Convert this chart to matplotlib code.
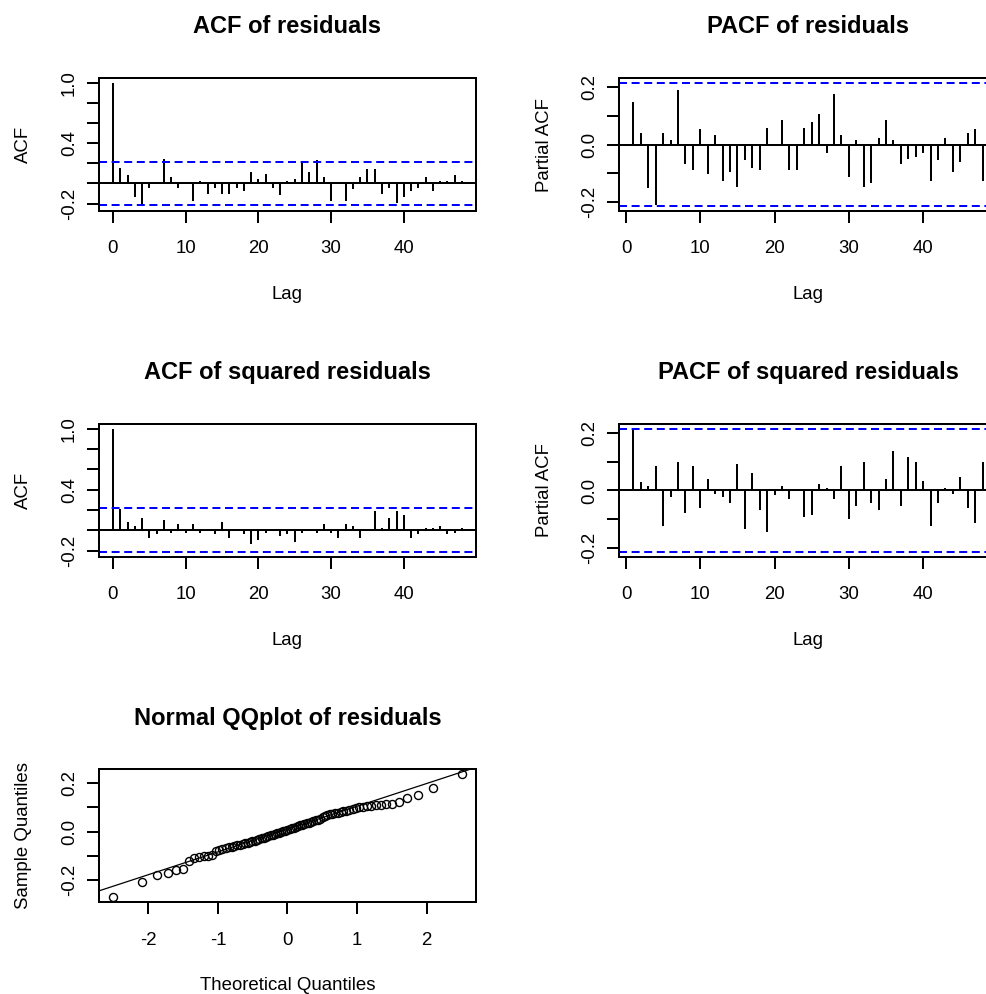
#! /usr/bin/python
# -*- encode: utf-8 -*-

"""Residual diagnostics: ACF / PACF of residuals and squared residuals, plus a normal QQ plot."""

from statistics import NormalDist

import numpy as np
import matplotlib
matplotlib.use('Agg')
import matplotlib.pyplot as plt


# Sample ACF of the residuals, lags 0..48.
acf_resid = [
    1.000, 0.152, 0.080, -0.134, -0.225, -0.044, 0.005, 0.248, 0.060, -0.044,
    -0.004, -0.174, 0.027, -0.100, -0.044, -0.100, -0.100, -0.044, -0.077, 0.117,
    0.047, 0.097, -0.044, -0.117, 0.027, 0.047, 0.211, 0.117, 0.235, 0.067,
    -0.174, 0.004, -0.174, -0.060, 0.067, 0.141, 0.141, -0.100, -0.044, -0.195,
    -0.134, -0.077, -0.044, 0.067, -0.077, 0.027, 0.027, 0.080, 0.027,
]

# Sample PACF of the residuals, lags 1..48.
pacf_resid = [
    0.150, 0.041, -0.152, -0.213, 0.041, 0.015, 0.189, -0.069, -0.088, 0.053,
    -0.102, 0.034, -0.126, -0.095, -0.147, -0.055, -0.081, -0.088, 0.059, 0.003,
    0.086, -0.088, -0.088, 0.059, 0.080, 0.106, -0.029, 0.176, 0.034, -0.114,
    0.015, -0.147, -0.134, 0.021, 0.086, 0.015, -0.069, -0.049, -0.044, -0.029,
    -0.126, -0.055, 0.021, -0.095, -0.062, 0.041, 0.053, -0.126,
]

# Sample ACF of the squared residuals, lags 0..48.
acf_sq = [
    1.000, 0.214, 0.082, 0.042, 0.118, -0.078, -0.039, 0.101, -0.023, 0.065,
    -0.023, 0.065, -0.023, 0.004, -0.039, 0.082, -0.078, 0.004, -0.039, -0.131,
    -0.098, -0.023, 0.004, -0.059, -0.039, -0.111, -0.023, 0.004, -0.023, 0.065,
    -0.023, -0.078, 0.065, 0.042, -0.078, 0.004, 0.190, 0.026, 0.118, 0.190,
    0.150, -0.078, -0.039, 0.026, 0.026, 0.042, -0.039, -0.023, 0.026,
]

# Sample PACF of the squared residuals, lags 1..48.
pacf_sq = [
    0.213, 0.028, 0.015, 0.087, -0.124, -0.022, 0.099, -0.080, 0.087, -0.061,
    0.041, -0.011, -0.022, -0.042, 0.093, -0.133, 0.060, -0.067, -0.145, -0.016,
    0.015, -0.028, 0.002, -0.094, -0.087, 0.021, 0.009, -0.028, 0.087, -0.100,
    -0.054, 0.099, -0.042, -0.067, 0.041, 0.138, -0.054, 0.118, 0.099, 0.034,
    -0.124, -0.042, 0.009, -0.011, 0.048, -0.061, -0.113, 0.099,
]

# Residuals, sorted.
resid = [
    -0.270, -0.206, -0.180, -0.170, -0.158, -0.155, -0.120, -0.108, -0.104, -0.101,
    -0.099, -0.096, -0.078, -0.074, -0.071, -0.068, -0.065, -0.062, -0.059, -0.056,
    -0.054, -0.052, -0.049, -0.046, -0.043, -0.040, -0.037, -0.034, -0.031, -0.028,
    -0.025, -0.022, -0.019, -0.016, -0.013, -0.010, -0.007, -0.004, -0.002, 0.001,
    0.004, 0.007, 0.010, 0.013, 0.016, 0.019, 0.022, 0.025, 0.028, 0.031,
    0.034, 0.037, 0.040, 0.043, 0.046, 0.049, 0.053, 0.058, 0.064, 0.068,
    0.070, 0.072, 0.074, 0.077, 0.080, 0.083, 0.086, 0.090, 0.093, 0.096,
    0.099, 0.101, 0.103, 0.105, 0.107, 0.109, 0.111, 0.113, 0.122, 0.139,
    0.148, 0.178, 0.235,
]

Width, Height = 987, 994
BoxW, BoxH = 377, 133
ColLeft = [99, 619.5]
RowTop = [78, 424, 769.3]

LineW = 1.44
TickFont = 13.4
TitleFont = 17
Blue = '#0000FF'

N = len(resid)
Clim = 1.96 / np.sqrt(N)


def r_range(lo, hi):
    ext = 0.04 * (hi - lo)
    return lo - ext, hi + ext


def make_axes(fig, row, col):
    left, top = ColLeft[col], RowTop[row]
    ax = fig.add_axes([left / Width, 1 - (top + BoxH) / Height, BoxW / Width, BoxH / Height])
    for s in ax.spines.values():
        s.set_linewidth(LineW)
        s.set_color('black')
    ax.tick_params(direction='out', length=8.9, width=LineW, labelsize=TickFont, colors='black')
    ax.tick_params(axis='x', pad=12.3)
    ax.tick_params(axis='y', pad=6.3)
    ax.xaxis.set_label_coords(0.5, -0.564)
    ax.yaxis.set_label_coords(-0.177, 0.5)
    return ax


def set_yticks(ax, ticks, shown):
    ax.set_yticks(ticks)
    ax.set_yticklabels(['{:.1f}'.format(t) if round(t, 1) in shown else '' for t in ticks],
                       rotation=90, va='center')


def plot_corr(ax, lags, vals, title, ylabel):
    lags = np.asarray(lags)
    vals = np.asarray(vals)
    ax.vlines(lags, 0, vals, color='black', lw=LineW)
    ax.axhline(0, color='black', lw=LineW)
    for c in (Clim, -Clim):
        ax.axhline(c, color=Blue, lw=LineW, linestyle=(0, (4, 2.3)))
    ax.set_xlim(*r_range(lags.min(), lags.max()))
    ax.set_ylim(*r_range(min(vals.min(), -Clim), max(vals.max(), Clim)))
    ax.set_xticks([0, 10, 20, 30, 40])
    ax.set_xlabel('Lag', fontsize=TickFont)
    ax.set_ylabel(ylabel, fontsize=TickFont)
    ax.set_title(title, fontsize=TitleFont, fontweight='bold', pad=32.2)


def main():
    plt.rcParams['font.family'] = ['Liberation Sans', 'DejaVu Sans']
    plt.rcParams['axes.unicode_minus'] = False

    fig = plt.figure(figsize=(Width / 100, Height / 100), dpi=100)

    ax = make_axes(fig, 0, 0)
    plot_corr(ax, range(len(acf_resid)), acf_resid, 'ACF of residuals', 'ACF')
    set_yticks(ax, [-0.2, 0.0, 0.2, 0.4, 0.6, 0.8, 1.0], (-0.2, 0.4, 1.0))

    ax = make_axes(fig, 0, 1)
    plot_corr(ax, range(1, len(pacf_resid) + 1), pacf_resid, 'PACF of residuals', 'Partial ACF')
    set_yticks(ax, [-0.2, -0.1, 0.0, 0.1, 0.2], (-0.2, 0.0, 0.2))

    ax = make_axes(fig, 1, 0)
    plot_corr(ax, range(len(acf_sq)), acf_sq, 'ACF of squared residuals', 'ACF')
    set_yticks(ax, [-0.2, 0.0, 0.2, 0.4, 0.6, 0.8, 1.0], (-0.2, 0.4, 1.0))

    ax = make_axes(fig, 1, 1)
    plot_corr(ax, range(1, len(pacf_sq) + 1), pacf_sq, 'PACF of squared residuals', 'Partial ACF')
    set_yticks(ax, [-0.2, -0.1, 0.0, 0.1, 0.2], (-0.2, 0.0, 0.2))

    # Normal QQ plot with the quartile line.
    ax = make_axes(fig, 2, 0)
    nd = NormalDist()
    theo = np.array([nd.inv_cdf((i - 0.5) / N) for i in range(1, N + 1)])
    y = np.sort(np.asarray(resid))
    ax.plot(theo, y, 'o', mfc='none', mec='black', ms=5.8, mew=1.0)
    q1, q3 = np.quantile(y, [0.25, 0.75])
    slope = (q3 - q1) / (nd.inv_cdf(0.75) - nd.inv_cdf(0.25))
    icpt = q1 - slope * nd.inv_cdf(0.25)
    ax.set_xlim(*r_range(theo.min(), theo.max()))
    ax.set_ylim(*r_range(y.min(), y.max()))
    xs = np.array(ax.get_xlim())
    ax.plot(xs, icpt + slope * xs, color='black', lw=0.9)
    ax.set_xticks([-2, -1, 0, 1, 2])
    set_yticks(ax, [-0.2, -0.1, 0.0, 0.1, 0.2], (-0.2, 0.0, 0.2))
    ax.set_xlabel('Theoretical Quantiles', fontsize=TickFont)
    ax.set_ylabel('Sample Quantiles', fontsize=TickFont)
    ax.set_title('Normal QQplot of residuals', fontsize=TitleFont, fontweight='bold', pad=32.2)

    fig.savefig('out.png', dpi=100)


if __name__ == '__main__':
    main()
